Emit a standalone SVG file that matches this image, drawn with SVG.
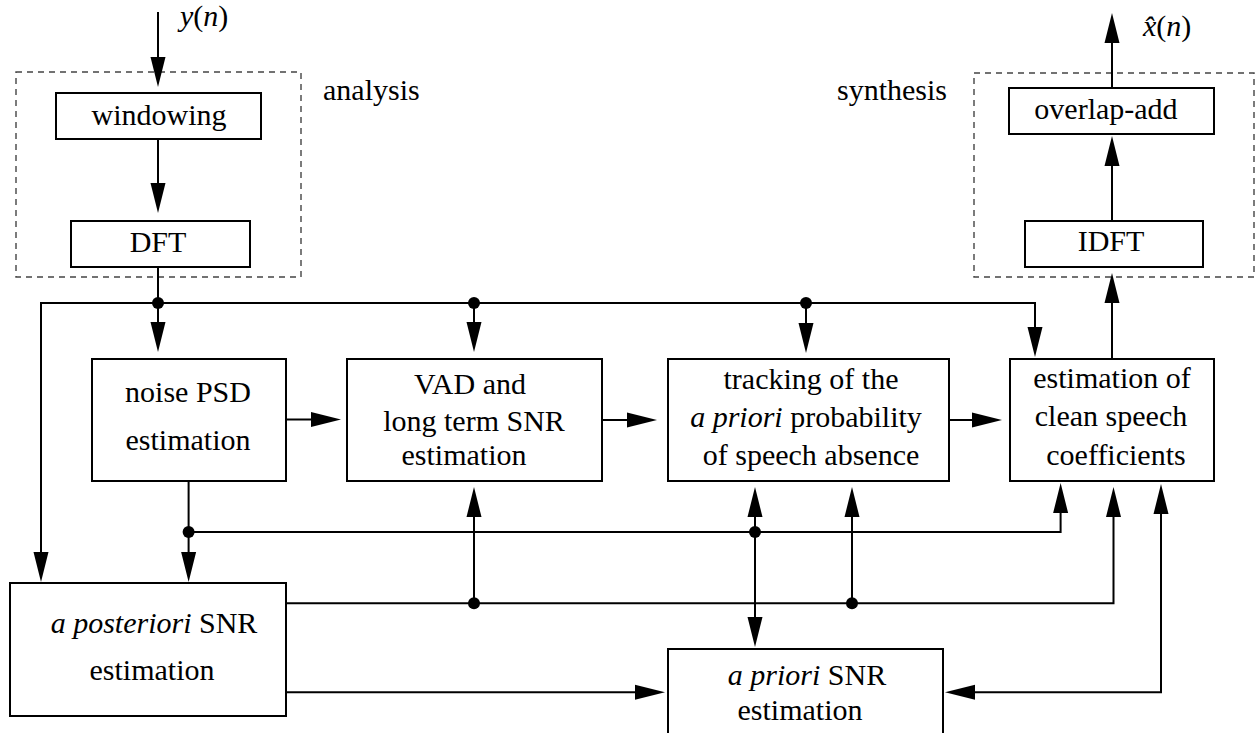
<svg xmlns="http://www.w3.org/2000/svg" width="1258" height="733" viewBox="0 0 1258 733">
<style>
.box{fill:#fff;stroke:#000;stroke-width:2}
.grp{fill:none;stroke:#444;stroke-width:1.4;stroke-dasharray:6 5}
.w{fill:none;stroke:#000;stroke-width:2}
.a{marker-end:url(#ah)}
.b{marker-start:url(#ah);marker-end:url(#ah)}
.dot{fill:#000}
</style>
<defs>
<marker id="ah" markerUnits="userSpaceOnUse" markerWidth="31" markerHeight="17" viewBox="0 0 31 17" refX="1" refY="8.5" orient="auto-start-reverse">
<path d="M0,1 L30,8.5 L0,16 z" fill="#000"/>
</marker>
</defs>
<rect x="0" y="0" width="1258" height="733" fill="#fff"/>
<g id="analysis-group">
<rect class="grp" x="16" y="72" width="285" height="205"/>
<text x="323" y="100" style="font-family:'Liberation Serif',serif;font-size:30px">analysis</text>
</g>
<g id="synthesis-group">
<rect class="grp" x="974" y="73" width="280" height="204"/>
<text x="837" y="100" style="font-family:'Liberation Serif',serif;font-size:30px">synthesis</text>
</g>

<g id="input-label"><text x="180" y="26" style="font-family:'Liberation Serif',serif;font-size:30px"><tspan style="font-style:italic">y</tspan>(<tspan style="font-style:italic">n</tspan>)</text></g>
<g id="output-label"><text x="1143" y="36" style="font-family:'Liberation Serif',serif;font-size:30px"><tspan style="font-style:italic">x̂</tspan>(<tspan style="font-style:italic">n</tspan>)</text></g>

<g id="windowing"><rect class="box" x="56" y="93" width="205" height="46"/><text x="159" y="125" text-anchor="middle" style="font-family:'Liberation Serif',serif;font-size:30px">windowing</text></g>
<g id="dft"><rect class="box" x="71" y="221" width="179" height="46"/><text x="158" y="252" text-anchor="middle" style="font-family:'Liberation Serif',serif;font-size:30px">DFT</text></g>
<g id="overlap-add"><rect class="box" x="1009" y="88" width="205" height="46"/><text x="1106" y="119" text-anchor="middle" style="font-family:'Liberation Serif',serif;font-size:30px">overlap-add</text></g>
<g id="idft"><rect class="box" x="1025" y="221" width="178" height="46"/><text x="1111" y="251" text-anchor="middle" style="font-family:'Liberation Serif',serif;font-size:30px">IDFT</text></g>

<g id="noise-psd"><rect class="box" x="92" y="359" width="194" height="122"/>
<text x="188" y="402" text-anchor="middle" style="font-family:'Liberation Serif',serif;font-size:30px">noise PSD</text>
<text x="188" y="450" text-anchor="middle" style="font-family:'Liberation Serif',serif;font-size:30px">estimation</text></g>
<g id="vad"><rect class="box" x="347" y="359" width="255" height="122"/>
<text x="470" y="394" text-anchor="middle" style="font-family:'Liberation Serif',serif;font-size:30px">VAD and</text>
<text x="474" y="431" text-anchor="middle" style="font-family:'Liberation Serif',serif;font-size:30px">long term SNR</text>
<text x="464" y="465" text-anchor="middle" style="font-family:'Liberation Serif',serif;font-size:30px">estimation</text></g>
<g id="tracking"><rect class="box" x="668" y="359" width="281" height="122"/>
<text x="811" y="389" text-anchor="middle" style="font-family:'Liberation Serif',serif;font-size:30px">tracking of the</text>
<text x="806" y="427" text-anchor="middle" style="font-family:'Liberation Serif',serif;font-size:30px"><tspan style="font-style:italic">a priori</tspan> probability</text>
<text x="811" y="465" text-anchor="middle" style="font-family:'Liberation Serif',serif;font-size:30px">of speech absence</text></g>
<g id="estimation"><rect class="box" x="1010" y="359" width="204" height="122"/>
<text x="1112" y="388" text-anchor="middle" style="font-family:'Liberation Serif',serif;font-size:30px">estimation of</text>
<text x="1111" y="426" text-anchor="middle" style="font-family:'Liberation Serif',serif;font-size:30px">clean speech</text>
<text x="1116" y="465" text-anchor="middle" style="font-family:'Liberation Serif',serif;font-size:30px">coefficients</text></g>
<g id="posteriori"><rect class="box" x="10" y="583" width="276" height="133"/>
<text x="154" y="633" text-anchor="middle" style="font-family:'Liberation Serif',serif;font-size:30px"><tspan style="font-style:italic">a posteriori</tspan> SNR</text>
<text x="152" y="680" text-anchor="middle" style="font-family:'Liberation Serif',serif;font-size:30px">estimation</text></g>
<g id="priori"><rect class="box" x="668" y="649" width="275" height="100"/>
<text x="807" y="685" text-anchor="middle" style="font-family:'Liberation Serif',serif;font-size:30px"><tspan style="font-style:italic">a priori</tspan> SNR</text>
<text x="800" y="720" text-anchor="middle" style="font-family:'Liberation Serif',serif;font-size:30px">estimation</text></g>

<g id="connectors">
<path class="w a" d="M158,12 V58"/>
<path class="w a" d="M158,139 V184"/>
<path class="w a" d="M158,267 V323"/>
<polyline class="w b" points="41,553 41,303 1035,303 1035,328"/>
<path class="w a" d="M474,303 V323"/>
<path class="w a" d="M806,303 V324"/>
<path class="w a" d="M286,419.5 H312"/>
<path class="w a" d="M602,420 H628"/>
<path class="w a" d="M949,420 H973"/>
<path class="w a" d="M1112,359 V302"/>
<path class="w a" d="M1112,221 V165"/>
<path class="w a" d="M1112,88 V42"/>
<path class="w a" d="M188.6,481 V553"/>
<polyline class="w a" points="188.6,532 1060.6,532 1060.6,512"/>
<path class="w b" d="M755,516 V618"/>
<polyline class="w a" points="286,603.3 1113.5,603.3 1113.5,516"/>
<path class="w a" d="M474,603.3 V516"/>
<path class="w a" d="M852,603.3 V516"/>
<path class="w a" d="M286,692.3 H636"/>
<polyline class="w b" points="1161,513 1161,692.3 974,692.3"/>
<circle class="dot" cx="158" cy="303" r="6"/>
<circle class="dot" cx="474" cy="303" r="6"/>
<circle class="dot" cx="806" cy="303" r="6"/>
<circle class="dot" cx="188.6" cy="532" r="6"/>
<circle class="dot" cx="755" cy="532" r="6"/>
<circle class="dot" cx="474" cy="603.3" r="6"/>
<circle class="dot" cx="852" cy="603.3" r="6"/>
</g>
</svg>
